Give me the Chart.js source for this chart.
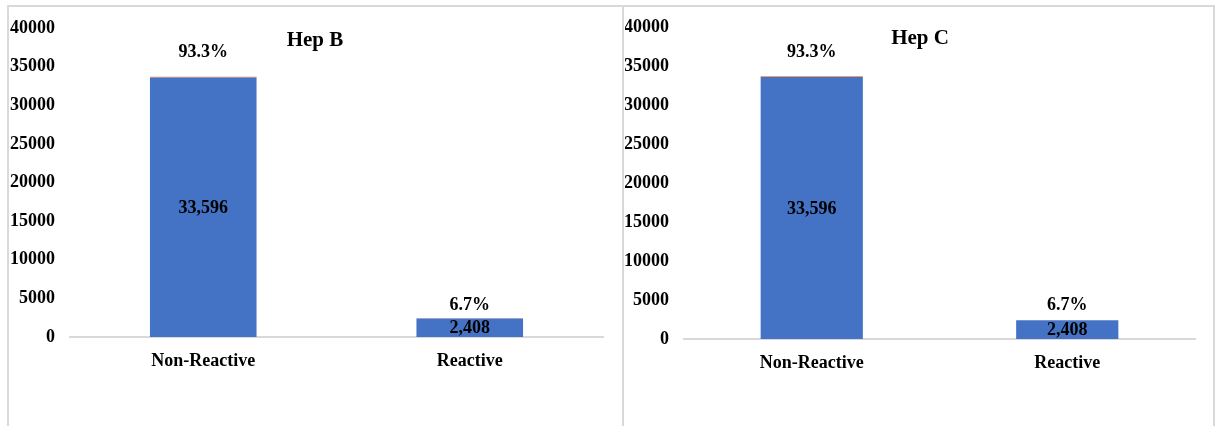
<!DOCTYPE html>
<html><head><meta charset="utf-8">
<script src="https://cdn.jsdelivr.net/npm/chart.js@4"></script>
<style>
html,body{margin:0;padding:0;background:#fff;width:1219px;height:426px;overflow:hidden}
.panel{position:absolute;border:2px solid #d9d9d9;border-bottom:none;box-sizing:border-box}
#p1{left:7px;top:5px;width:617px;height:421px;border-right:none}
#p2{left:622px;top:5px;width:593px;height:421px}
canvas{position:absolute}
#c1{left:10px;top:8px;width:605px;height:418px}
#c2{left:625px;top:8px;width:587px;height:418px}
</style></head><body>
<div class="panel" id="p1"></div><div class="panel" id="p2"></div>
<canvas id="c1" width="605" height="418"></canvas>
<canvas id="c2" width="587" height="418"></canvas>
<script>
const categories = ['Non-Reactive', 'Reactive'];
const hepBCounts = [33596, 2408];
const hepBPercents = [93.3, 6.7];
const hepCCounts = [33596, 2408];
const hepCPercents = [93.3, 6.7];
const yTickValues = [0, 5000, 10000, 15000, 20000, 25000, 30000, 35000, 40000];
const chartTitles = ['Hep B', 'Hep C'];

const FONT = 'Liberation Serif';

const labelPlugin = {
  id: 'barLabels',
  afterDatasetsDraw(chart, args, opts) {
    const ctx = chart.ctx;
    ctx.save();
    ctx.fillStyle = '#000';
    ctx.textAlign = 'center';
    ctx.textBaseline = 'middle';
    ctx.font = 'bold 18px "' + FONT + '"';
    const m0 = chart.getDatasetMeta(0), m1 = chart.getDatasetMeta(1);
    m0.data.forEach((bar, i) => {
      const v = chart.data.datasets[0].data[i];
      ctx.fillText(v.toLocaleString('en-US'), bar.x, (bar.y + bar.base) / 2 + 1);
    });
    m1.data.forEach((bar, i) => {
      const v = chart.data.datasets[1].data[i];
      ctx.fillText(v.toFixed(1) + '%', bar.x, bar.y - opts.pctOffsets[i]);
    });
    ctx.font = 'bold 21px "' + FONT + '"';
    ctx.fillText(opts.title, opts.titleX, opts.titleY);
    ctx.restore();
  }
};

function makeChart(id, counts, pcts, title, cfg) {
  const tickFont = { family: FONT, size: 18, weight: 'bold' };
  return new Chart(document.getElementById(id), {
    type: 'bar',
    data: {
      labels: categories,
      datasets: [
        { label: 'Count', data: counts, backgroundColor: '#4472C4', barPercentage: 0.4, categoryPercentage: 1.0 },
        { label: 'Percent', data: pcts, backgroundColor: '#ED7D31', barPercentage: 0.4, categoryPercentage: 1.0 }
      ]
    },
    options: {
      responsive: false,
      animation: false,
      devicePixelRatio: 1,
      layout: { padding: { top: cfg.top, right: cfg.right, left: 0, bottom: cfg.bottom } },
      plugins: {
        legend: { display: false },
        tooltip: { enabled: false },
        barLabels: { title: title, titleX: cfg.titleX, titleY: cfg.titleY, pctOffsets: cfg.pctOffsets }
      },
      scales: {
        x: {
          stacked: true,
          grid: { display: false, drawTicks: false },
          border: { display: true, color: '#d9d9d9', width: 2 },
          ticks: { color: '#000', font: tickFont, padding: 14 },
          afterFit(s) { s.height = 60; s.paddingLeft = 0; s.paddingRight = 0; }
        },
        y: {
          stacked: true, min: 0, max: 40000,
          grid: { display: false, drawTicks: false },
          border: { display: false },
          ticks: { color: '#000', font: tickFont, padding: cfg.tickPad, callback: v => String(v) },
          afterBuildTicks(s) { s.ticks = yTickValues.map(v => ({ value: v })); },
          afterFit(s) { s.width = cfg.yWidth; s.paddingTop = 0; s.paddingBottom = 0; }
        }
      }
    },
    plugins: [labelPlugin]
  });
}

makeChart('c1', hepBCounts, hepBPercents, chartTitles[0],
  { top: 20, right: 12, bottom: 29, yWidth: 60, tickPad: 15, titleX: 305, titleY: 33, pctOffsets: [24, 13] });
makeChart('c2', hepCCounts, hepCPercents, chartTitles[1],
  { top: 19, right: 17, bottom: 27, yWidth: 59, tickPad: 15, titleX: 295, titleY: 31, pctOffsets: [24, 15] });
</script>
</body></html>
